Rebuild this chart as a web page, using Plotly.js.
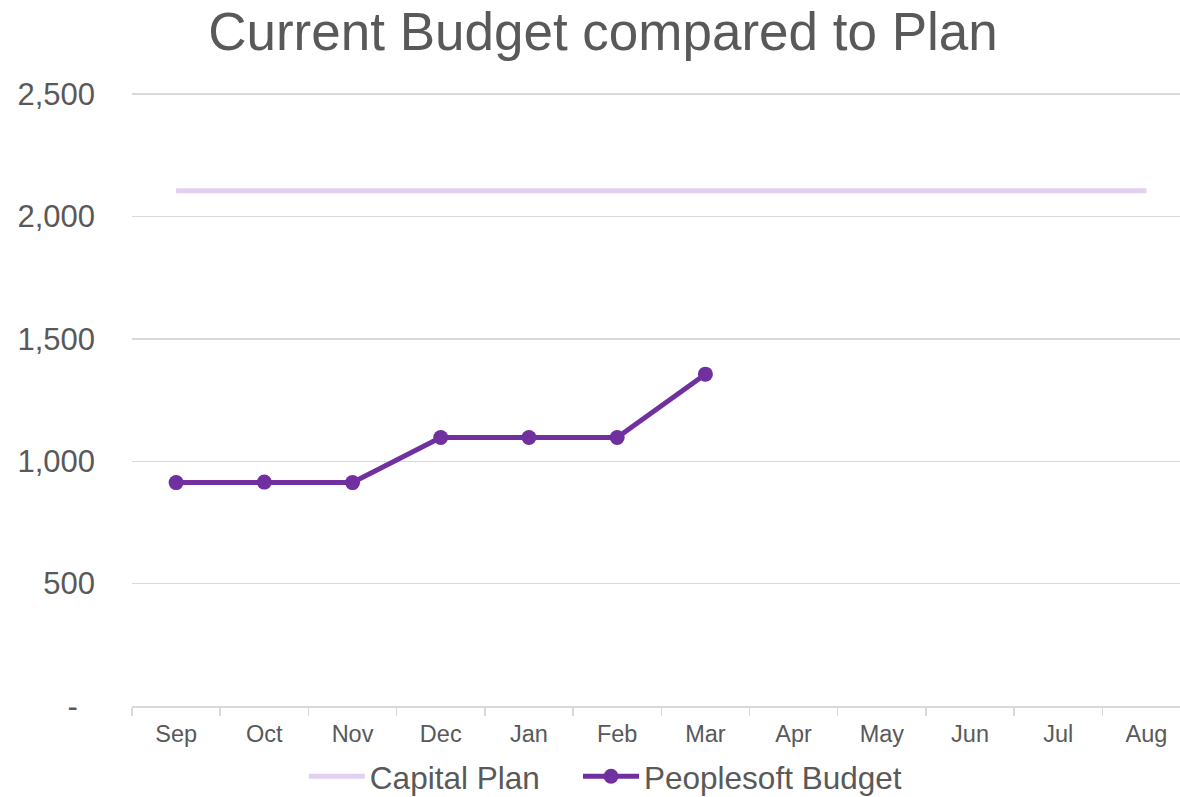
<!DOCTYPE html>
<html>
<head>
<meta charset="utf-8">
<script src="https://cdn.plot.ly/plotly-3.0.1.min.js"></script>
<style>html,body{margin:0;padding:0;background:#fff;}#chart{width:1180px;height:797px;}</style>
</head>
<body>
<div id="chart"></div>
<script>
const months = ["Sep","Oct","Nov","Dec","Jan","Feb","Mar","Apr","May","Jun","Jul","Aug"];
const capitalPlan = [2106,2106,2106,2106,2106,2106,2106,2106,2106,2106,2106,2106];
const peoplesoftBudget = [913,915,913,1097,1097,1097,1356,null,null,null,null,null];
const yTickVals = [0,500,1000,1500,2000,2500];
const yTickText = ["-\u00a0\u00a0","500","1,000","1,500","2,000","2,500"];

const textColor = "#595959";
const traces = [
  {
    x: months, y: capitalPlan, name: "Capital Plan", type: "scatter", mode: "lines",
    line: {color: "#e2d0f1", width: 5}, legend: "legend"
  },
  {
    x: months, y: peoplesoftBudget, name: "Peoplesoft Budget", type: "scatter", mode: "lines+markers",
    line: {color: "#7030a0", width: 5}, marker: {color: "#7030a0", size: 15}, connectgaps: false, legend: "legend2"
  }
];
const legendBase = {orientation: "h", xanchor: "left", yref: "container", y: 0.026, yanchor: "middle",
  bgcolor: "rgba(0,0,0,0)", font: {size: 31.5, color: textColor}, itemwidth: 56};
const layout = {
  width: 1180, height: 797,
  paper_bgcolor: "#fff", plot_bgcolor: "#fff",
  margin: {l: 132, r: 0, t: 93, b: 91, autoexpand: false},
  font: {family: "Liberation Sans, Arial, sans-serif", color: textColor},
  title: {text: "Current Budget compared to Plan", font: {size: 53, color: textColor}, x: 0.511, xanchor: "center", y: 0.96, yanchor: "middle"},
  xaxis: {
    type: "category", range: [-0.5, 11.38], tickson: "boundaries",
    showline: true, linecolor: "#d9d9d9", linewidth: 1.5,
    ticks: "outside", ticklen: 8, tickcolor: "#d9d9d9", tickwidth: 1.5,
    showgrid: false, tickfont: {size: 23.5, color: textColor}, ticklabelstandoff: 6, fixedrange: true, automargin: false
  },
  yaxis: {
    range: [0, 2505], tickvals: yTickVals, ticktext: yTickText,
    showgrid: true, gridcolor: "#d9d9d9", gridwidth: 1.5, zeroline: false, showline: false,
    tickfont: {size: 31, color: textColor}, ticklabelstandoff: 36, ticks: "", fixedrange: true, automargin: false
  },
  showlegend: true,
  legend: Object.assign({}, legendBase, {x: 0.164}),
  legend2: Object.assign({}, legendBase, {x: 0.4256})
};
Plotly.newPlot("chart", traces, layout, {displayModeBar: false, staticPlot: true});
</script>
</body>
</html>
